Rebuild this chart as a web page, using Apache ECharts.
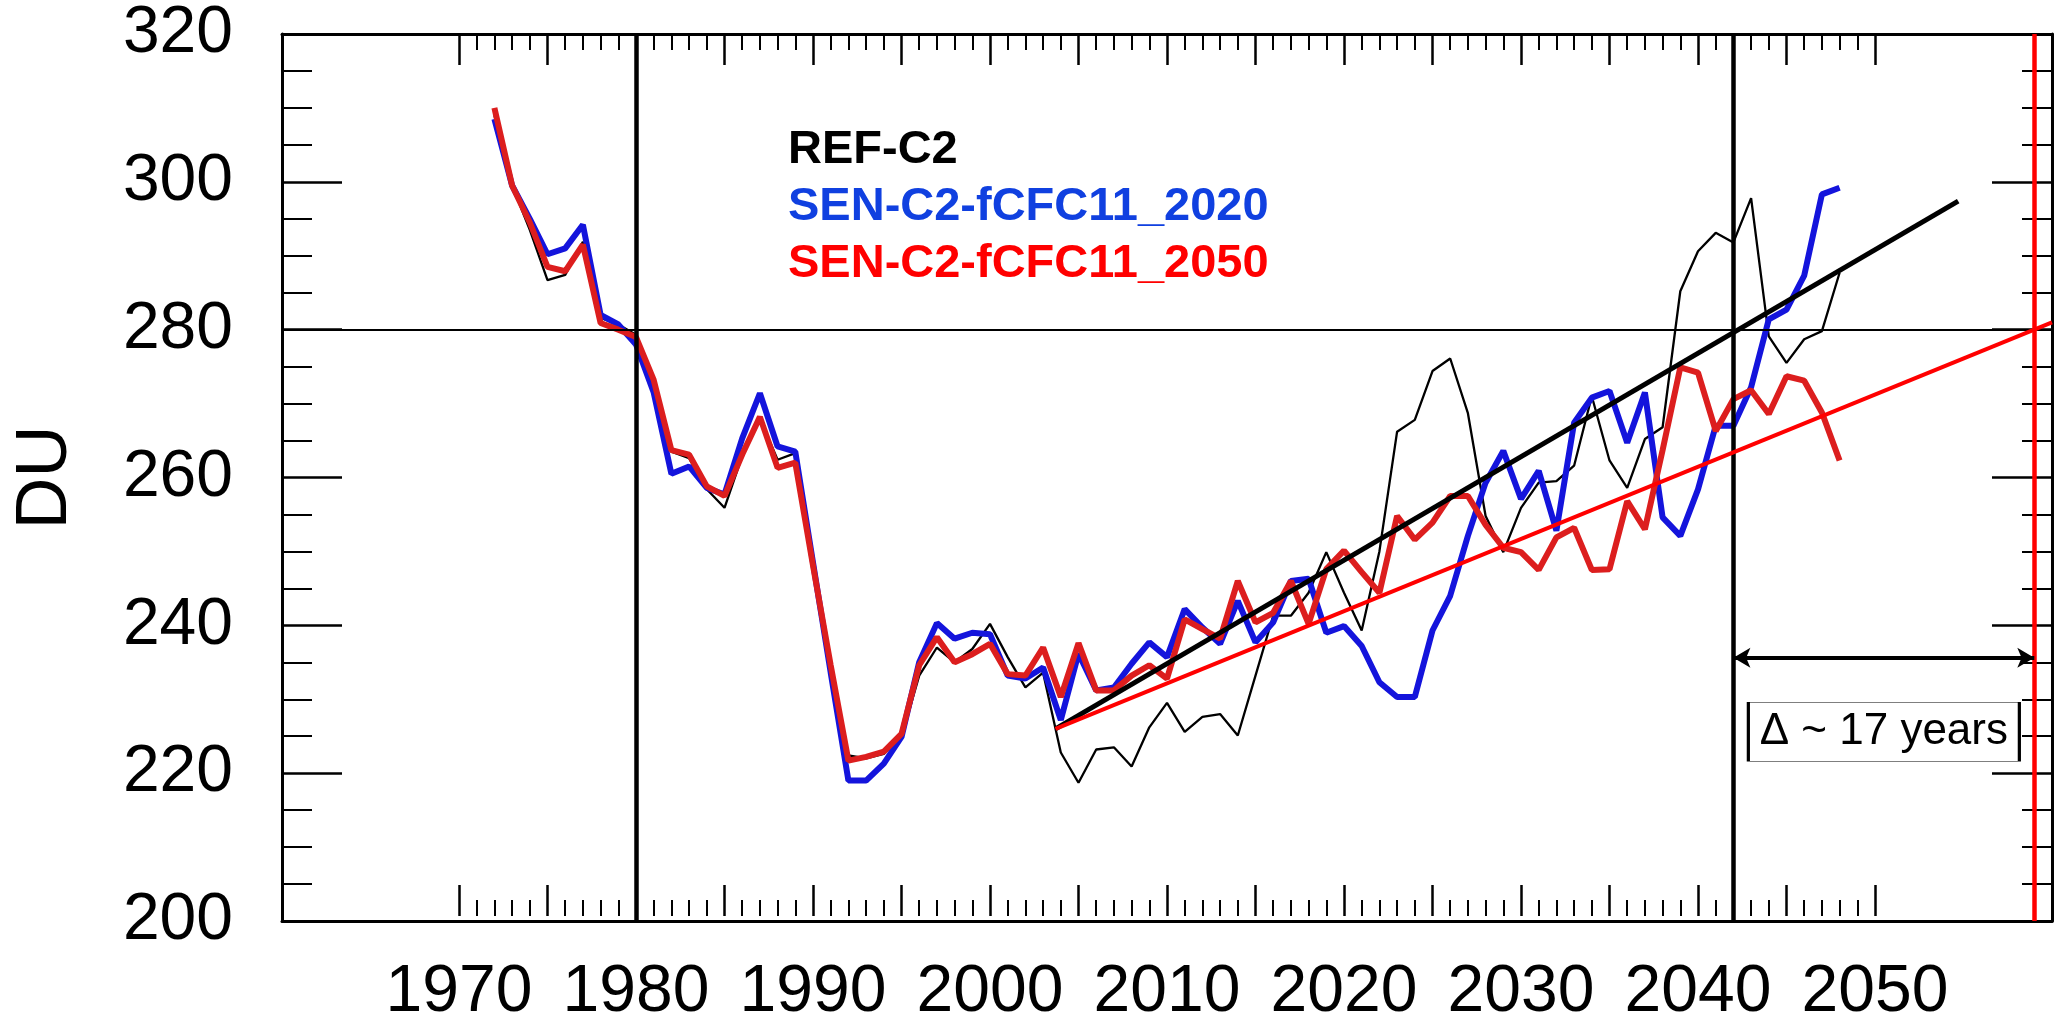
<!DOCTYPE html>
<html>
<head>
<meta charset="utf-8">
<script src="https://cdn.jsdelivr.net/npm/echarts@6/dist/echarts.min.js"></script>
<style>
  html, body { margin: 0; padding: 0; background: #fff; }
  #chart { width: 2059px; height: 1026px; }
</style>
</head>
<body>
<div id="chart"></div>
<script>
// years of the model runs
var years = [];
for (var y = 1972; y <= 2048; y++) years.push(y);

// REF-C2 (thin black)
var refC2 = [
  309.0, 299.5, 293.5, 286.7, 287.4, 291.9, 281.6, 280.7, 279.3,
  272.5, 263.5, 262.6, 258.4, 255.9, 262.9, 268.0, 262.4, 263.3, 248.3,
  234.5, 222.4, 222.0, 222.6, 224.9, 233.2, 237.0, 235.0, 236.8, 240.2,
  235.7, 231.6, 233.6, 222.8, 218.7, 223.2, 223.5, 220.9, 226.2, 229.5,
  225.6, 227.6, 228.0, 225.1, 233.2, 241.3, 241.3, 244.4, 249.9, 244.4,
  239.3, 250.0, 266.2, 267.8, 274.4, 276.1, 268.7, 254.8, 249.9, 255.9,
  259.3, 259.5, 261.6, 271.0, 262.3, 258.6, 265.2, 266.8, 285.2, 290.6,
  293.1, 291.8, 297.8, 279.1, 275.5, 278.7, 279.8, 287.7
];

// SEN-C2-fCFC11_2020 (blue)
var sen2020 = [
  308.5, 299.5, 295.0, 290.2, 291.0, 294.2, 282.0, 280.7, 278.0,
  271.5, 260.5, 261.5, 258.6, 257.7, 265.3, 271.4, 264.2, 263.5, 248.5,
  233.6, 219.0, 219.0, 221.3, 224.9, 235.0, 240.3, 238.2, 239.0, 238.8,
  233.2, 232.8, 234.3, 227.2, 236.2, 231.2, 231.6, 234.8, 237.7, 235.7,
  242.2, 239.7, 237.5, 243.3, 237.7, 240.4, 246.0, 246.3, 239.0, 239.9,
  237.2, 232.3, 230.3, 230.3, 239.3, 244.0, 252.1, 259.3, 263.6, 257.1,
  260.9, 252.8, 267.4, 270.8, 271.7, 264.7, 271.5, 254.6, 252.1, 258.4,
  267.0, 267.0, 272.2, 281.4, 282.7, 287.3, 298.3, 299.2
];

// SEN-C2-fCFC11_2050 (red)
var sen2050 = [
  310.0, 299.5, 294.5, 288.5, 287.9, 291.5, 280.9, 280.0, 279.0,
  273.2, 263.7, 263.1, 258.8, 257.5, 263.1, 268.2, 261.3, 262.0, 248.1,
  234.6, 221.7, 222.2, 222.9, 225.3, 234.6, 238.4, 235.0, 236.1, 237.5,
  233.4, 233.2, 237.0, 230.3, 237.6, 231.2, 231.2, 233.2, 234.6, 232.8,
  240.8, 239.5, 238.2, 246.0, 240.4, 241.7, 246.0, 240.2, 247.6, 250.1,
  247.2, 244.4, 254.8, 251.6, 253.9, 257.5, 257.5, 253.6, 250.5, 249.9,
  247.5, 251.9, 253.2, 247.5, 247.6, 256.8, 253.0, 263.7, 274.9, 274.2,
  266.3, 270.6, 271.8, 268.6, 273.7, 273.1, 268.8, 262.3
];

// linear trends (start / end)
var trendRefYears = [2003.7, 2054.7];
var trendRefDU = [226.0, 297.4];
var trendRedYears = [2003.7, 2060];
var trendRedDU = [226.0, 281.0];

// reference lines
var returnYearsRef = [1980, 2042];
var returnYearRed = 2059;
var levelDU = 280;
var arrowDU = 235.6;
var boxCenter = [2050.5, 225.6];

var xTicks = [1970, 2050];
var yTicks = [200, 320];

function pairs(xs, ys) {
  return xs.map(function (x, i) { return [x, ys[i]]; });
}

var font = 'Liberation Sans, Arial, Helvetica, sans-serif';
var chart = echarts.init(document.getElementById('chart'));

var frameLine = { show: true, onZero: false, lineStyle: { color: '#000', width: 3 } };

var option = {
  animation: false,
  backgroundColor: '#fff',
  grid: [
    { left: 282, top: 34, width: 1770, height: 887 },
    { left: 459, top: 34, width: 1416, height: 887 }
  ],
  legend: {
    orient: 'vertical',
    left: 778, top: 122,
    itemWidth: 0, itemHeight: 0, itemGap: 10,
    icon: 'rect',
    selectedMode: false,
    textStyle: { fontSize: 47, fontWeight: 'bold', fontFamily: font, lineHeight: 47 },
    data: [
      { name: 'REF-C2', textStyle: { color: '#000' } },
      { name: 'SEN-C2-fCFC11_2020', textStyle: { color: '#1040e0' } },
      { name: 'SEN-C2-fCFC11_2050', textStyle: { color: '#ff0000' } }
    ]
  },
  xAxis: [
    // frame
    { type: 'value', gridIndex: 0, min: 1960, max: 2060, position: 'bottom',
      axisLine: frameLine, axisTick: { show: false }, axisLabel: { show: false }, splitLine: { show: false } },
    { type: 'value', gridIndex: 0, min: 1960, max: 2060, position: 'top',
      axisLine: frameLine, axisTick: { show: false }, axisLabel: { show: false }, splitLine: { show: false } },
    // ticks 1970-2050
    { type: 'value', gridIndex: 1, min: xTicks[0], max: xTicks[1], interval: 5, position: 'bottom',
      axisLine: { show: false },
      axisTick: { inside: true, length: 31, lineStyle: { color: '#000', width: 2.5 } },
      minorTick: { show: true, splitNumber: 5, length: 16, lineStyle: { color: '#000', width: 2 } },
      axisLabel: { fontSize: 66, color: '#000', fontFamily: font, margin: 44,
        formatter: function (v) { return v % 10 === 0 ? String(v) : ''; } },
      splitLine: { show: false } },
    { type: 'value', gridIndex: 1, min: xTicks[0], max: xTicks[1], interval: 5, position: 'top',
      axisLine: { show: false },
      axisTick: { inside: true, length: 31, lineStyle: { color: '#000', width: 2.5 } },
      minorTick: { show: true, splitNumber: 5, length: 16, lineStyle: { color: '#000', width: 2 } },
      axisLabel: { show: false }, splitLine: { show: false } }
  ],
  yAxis: [
    { type: 'value', gridIndex: 0, min: yTicks[0], max: yTicks[1], interval: 20, position: 'left',
      axisLine: frameLine,
      axisTick: { inside: true, length: 60, lineStyle: { color: '#000', width: 2.5 } },
      minorTick: { show: true, splitNumber: 4, length: 30, lineStyle: { color: '#000', width: 2 } },
      axisLabel: { fontSize: 66, color: '#000', fontFamily: font, margin: 49 },
      splitLine: { show: false },
      name: 'DU', nameLocation: 'middle', nameGap: 200, nameRotate: 90,
      nameTextStyle: { fontSize: 72, color: '#000', fontFamily: font } },
    { type: 'value', gridIndex: 0, min: yTicks[0], max: yTicks[1], interval: 20, position: 'right',
      axisLine: frameLine,
      axisTick: { inside: true, length: 60, lineStyle: { color: '#000', width: 2.5 } },
      minorTick: { show: true, splitNumber: 4, length: 30, lineStyle: { color: '#000', width: 2 } },
      axisLabel: { show: false }, splitLine: { show: false } },
    { type: 'value', gridIndex: 1, min: yTicks[0], max: yTicks[1], show: false }
  ],
  series: [
    {
      name: 'REF-C2', type: 'line', xAxisIndex: 0, yAxisIndex: 0,
      data: pairs(years, refC2), showSymbol: false, z: 2,
      lineStyle: { color: '#000', width: 2.3 }, itemStyle: { color: '#000' },
      markLine: {
        silent: true, symbol: 'none', label: { show: false },
        data: [
          { xAxis: returnYearsRef[0], lineStyle: { color: '#000', width: 4.5, type: 'solid' } },
          { xAxis: returnYearsRef[1], lineStyle: { color: '#000', width: 4.5, type: 'solid' } },
          { yAxis: levelDU, lineStyle: { color: '#000', width: 2, type: 'solid' } }
        ]
      }
    },
    {
      name: 'SEN-C2-fCFC11_2020', type: 'line', xAxisIndex: 0, yAxisIndex: 0,
      data: pairs(years, sen2020), showSymbol: false, z: 3,
      lineStyle: { color: '#1414dc', width: 6 }, itemStyle: { color: '#1414dc' }
    },
    {
      name: 'SEN-C2-fCFC11_2050', type: 'line', xAxisIndex: 0, yAxisIndex: 0,
      data: pairs(years, sen2050), showSymbol: false, z: 4,
      lineStyle: { color: '#dc1e1e', width: 6 }, itemStyle: { color: '#dc1e1e' },
      markLine: {
        silent: true, symbol: 'none', label: { show: false },
        data: [
          { xAxis: returnYearRed, lineStyle: { color: '#ff0000', width: 4.5, type: 'solid' } }
        ]
      }
    },
    {
      name: 'trend REF', type: 'line', xAxisIndex: 0, yAxisIndex: 0,
      data: pairs(trendRefYears, trendRefDU), showSymbol: false, z: 5,
      lineStyle: { color: '#000', width: 5 }
    },
    {
      name: 'trend 2050', type: 'line', xAxisIndex: 0, yAxisIndex: 0,
      data: pairs(trendRedYears, trendRedDU), showSymbol: false, z: 5,
      lineStyle: { color: '#ff0000', width: 4 }
    },
    {
      name: 'delta', type: 'line', xAxisIndex: 0, yAxisIndex: 0, data: [], z: 6,
      markLine: {
        silent: true, symbol: ['arrow', 'arrow'], symbolSize: [15, 17],
        label: { show: false },
        lineStyle: { color: '#000', width: 4, type: 'solid' },
        itemStyle: { color: '#000' },
        data: [[{ coord: [returnYearsRef[1], arrowDU] }, { coord: [returnYearRed, arrowDU] }]]
      },
      markPoint: {
        silent: true, symbol: 'rect', symbolSize: [271, 59],
        itemStyle: { color: '#fff', borderColor: '#000', borderWidth: 1.5 },
        label: { show: true, position: 'inside', formatter: '\u0394 ~ 17 years',
          fontSize: 44, color: '#000', fontFamily: font },
        data: [{ coord: boxCenter }]
      }
    }
  ]
};

chart.setOption(option);
</script>
</body>
</html>
